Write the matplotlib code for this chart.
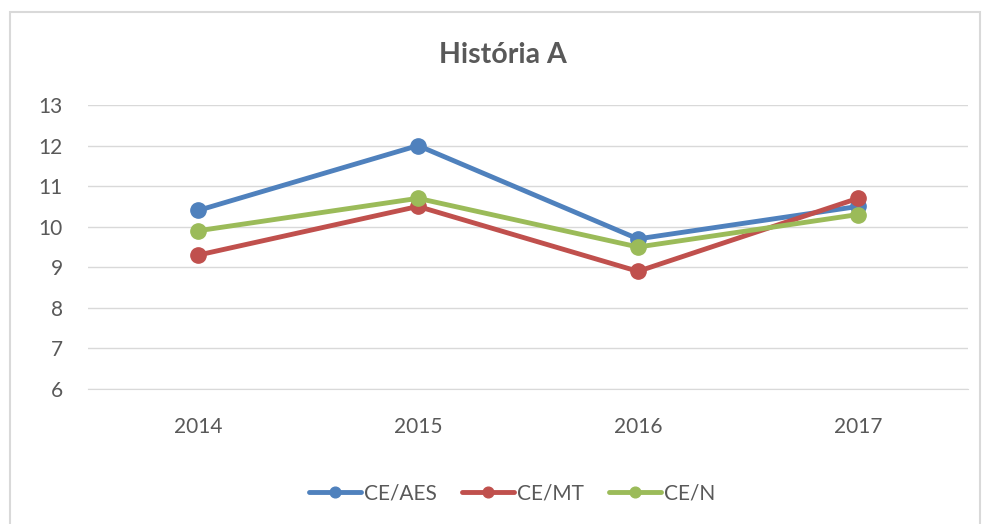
import matplotlib.pyplot as plt
from matplotlib.patches import Rectangle

# data
years = ["2014", "2015", "2016", "2017"]
ce_aes = [10.4, 12.0, 9.7, 10.5]
ce_mt = [9.3, 10.5, 8.9, 10.7]
ce_n = [9.9, 10.7, 9.5, 10.3]
series_names = ["CE/AES", "CE/MT", "CE/N"]
colors = ["#4F81BD", "#C0504D", "#9BBB59"]
y_ticks = [6, 7, 8, 9, 10, 11, 12, 13]

plt.rcParams["font.family"] = ["Lato", "DejaVu Sans"]
text_col = "#595959"

fig = plt.figure(figsize=(9.82, 5.24), dpi=100)
ax = fig.add_axes([88 / 982, 1 - 389 / 524, 880 / 982, 284 / 524])

# chart border
fig.patches.append(Rectangle((10 / 982, -0.05), 970 / 982, 1.05 - 12 / 524,
                             transform=fig.transFigure, fill=False,
                             edgecolor="#D9D9D9", linewidth=1.5))

x = range(len(years))
for vals, name, c in zip([ce_aes, ce_mt, ce_n], series_names, colors):
    ax.plot(x, vals, color=c, linewidth=3.5, marker="o", markersize=11,
            label=name, solid_capstyle="round")

ax.set_xlim(-0.5, len(years) - 0.5)
ax.set_ylim(min(y_ticks), max(y_ticks))
ax.set_yticks(y_ticks)
ax.set_xticks(list(x))
ax.set_xticklabels(years)
ax.grid(axis="y", color="#D9D9D9", linewidth=1)
ax.set_axisbelow(True)
for s in ["top", "right", "left"]:
    ax.spines[s].set_visible(False)
ax.spines["bottom"].set_color("#D9D9D9")
ax.tick_params(axis="both", length=0, labelsize=15, colors=text_col)
ax.tick_params(axis="y", pad=18)
ax.tick_params(axis="x", pad=20)

fig.text(503 / 982, 1 - 55 / 524, "História A", ha="center", va="center",
         fontsize=20.5, fontweight="bold", color=text_col)

fig.legend(loc="center", bbox_to_anchor=(512 / 982, 1 - 493 / 524), ncol=3,
           frameon=False, fontsize=15, labelcolor=text_col, handlelength=2.5,
           handletextpad=0.15, columnspacing=1.2, markerscale=0.7)

fig.savefig("out.png", dpi=100)
